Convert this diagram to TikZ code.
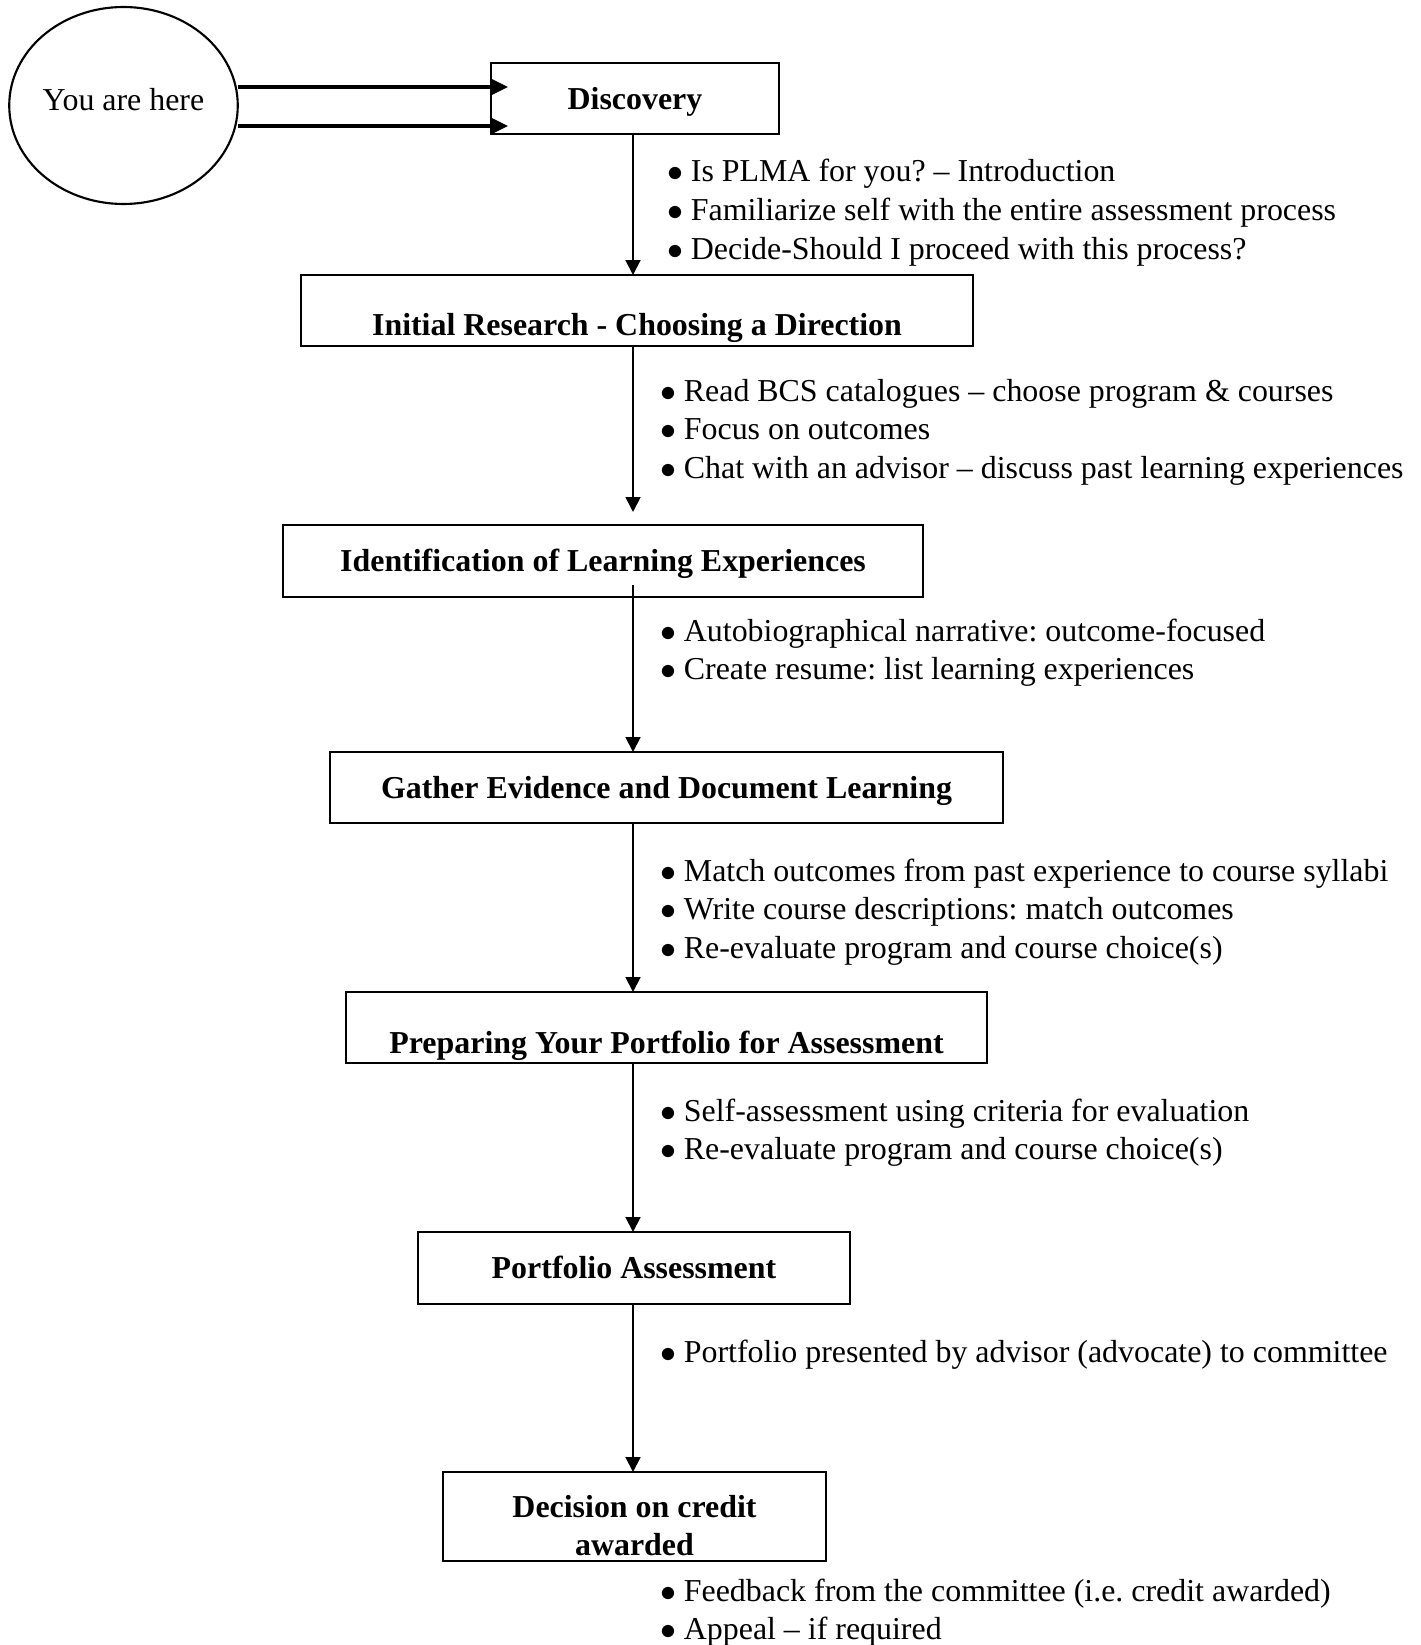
\documentclass[tikz,border=0pt,12pt]{standalone}
\usepackage{fontspec}
\setmainfont{Liberation Serif}
\usetikzlibrary{arrows.meta,shapes.geometric,calc}
\frenchspacing

% one pixel of the layout
\newcommand{\pxu}{0.376pt}
% bullet in front of a note
\newcommand{\dotmark}{\makebox[8.4pt][l]{\hspace{-0.3pt}$\bullet$}}

\tikzset{
  stage/.style={draw, rectangle, line width=0.8pt, inner sep=0pt, outer sep=0pt, font=\bfseries},
  oneline/.style={text height=#1, text depth=2.5pt},
  oneline/.default=10.5pt,
  note/.style={anchor=base west, inner sep=0pt},
  flow/.style={-{Triangle[width=5.6pt,length=5.6pt]}, line width=0.75pt},
  entry/.style={-{Triangle[width=5.6pt,length=6pt]}, line width=1.2pt},
}

\begin{document}
\begin{tikzpicture}[x=\pxu, y=-\pxu]
  \useasboundingbox (0,0) rectangle (1420,1645);

  % Start marker
  \node[ellipse, draw, line width=0.8pt, inner sep=0pt, outer sep=0pt, text height=8.5pt, text depth=4.9pt,
        minimum width={227*\pxu}, minimum height={197*\pxu}] (here) at (123.5,105.5) {You are here};

  % Stages
  \node[stage, oneline, minimum width={288*\pxu}, minimum height={71*\pxu}] (disc) at (635,98.5) {Discovery};
  \node[stage, oneline=21.1pt, minimum width={672*\pxu}, minimum height={71*\pxu}] (init) at (637,310.5) {Initial Research - Choosing a Direction};
  \node[stage, oneline, minimum width={640*\pxu}, minimum height={72*\pxu}] (ident) at (603,561) {Identification of Learning Experiences};
  \node[stage, oneline, minimum width={673*\pxu}, minimum height={71*\pxu}] (gather) at (666.5,787.5) {Gather Evidence and Document Learning};
  \node[stage, oneline=21.9pt, minimum width={641*\pxu}, minimum height={71*\pxu}] (prep) at (666.5,1027.5) {Preparing Your Portfolio for Assessment};
  \node[stage, oneline, minimum width={432*\pxu}, minimum height={72*\pxu}] (assess) at (634,1268) {Portfolio Assessment};
  \node[stage, align=center, minimum width={383*\pxu}, minimum height={89*\pxu}] (decide) at (634.5,1516.5)
    {\rule{0pt}{15.3pt}Decision on credit\\awarded};

  % Entry arrows
  \draw[entry] ($(here.east)+(0,-18.5)$) -- ($(disc.west)+(17,-11.5)$);
  \draw[entry] ($(here.east)+(0,20.5)$) -- ($(disc.west)+(17,27.5)$);

  % Main line
  \coordinate (spine) at (633,0);
  \draw[flow] (disc.south -| spine) -- (init.north -| spine);
  \draw[flow, shorten >=4.9pt] (init.south -| spine) -- (ident.north -| spine);
  \draw[flow, shorten <=-4.5pt] (ident.south -| spine) -- (gather.north -| spine);
  \draw[flow] (gather.south -| spine) -- (prep.north -| spine);
  \draw[flow] (prep.south -| spine) -- (assess.north -| spine);
  \draw[flow] (assess.south -| spine) -- (decide.north -| spine);

  % Notes beside the line
  \foreach \t [count=\i from 0] in {{Is PLMA for you? – Introduction},
      {Familiarize self with the entire assessment process},
      {Decide-Should I proceed with this process?}}
    \node[note] (discnote-\i) at (668,{182+38.8*\i}) {\dotmark\t};
  \foreach \t [count=\i from 0] in {{Read BCS catalogues – choose program \& courses},
      {Focus on outcomes},
      {Chat with an advisor – discuss past learning experiences}}
    \node[note] (initnote-\i) at (661,{401+38.8*\i}) {\dotmark\t};
  \foreach \t [count=\i from 0] in {{Autobiographical narrative: outcome-focused},
      {Create resume: list learning experiences}}
    \node[note] (identnote-\i) at (661,{641+38.8*\i}) {\dotmark\t};
  \foreach \t [count=\i from 0] in {{Match outcomes from past experience to course syllabi},
      {Write course descriptions: match outcomes},
      {Re-evaluate program and course choice(s)}}
    \node[note] (gathernote-\i) at (661,{881+38.8*\i}) {\dotmark\t};
  \foreach \t [count=\i from 0] in {{Self-assessment using criteria for evaluation},
      {Re-evaluate program and course choice(s)}}
    \node[note] (prepnote-\i) at (661,{1121+38.8*\i}) {\dotmark\t};
  \node[note] (assessnote) at (661,1362) {\dotmark Portfolio presented by advisor (advocate) to committee};
  \foreach \t [count=\i from 0] in {{Feedback from the committee (i.e. credit awarded)},
      {Appeal – if required}}
    \node[note] (decidenote-\i) at (661,{1601+38.8*\i}) {\dotmark\t};
\end{tikzpicture}
\end{document}
